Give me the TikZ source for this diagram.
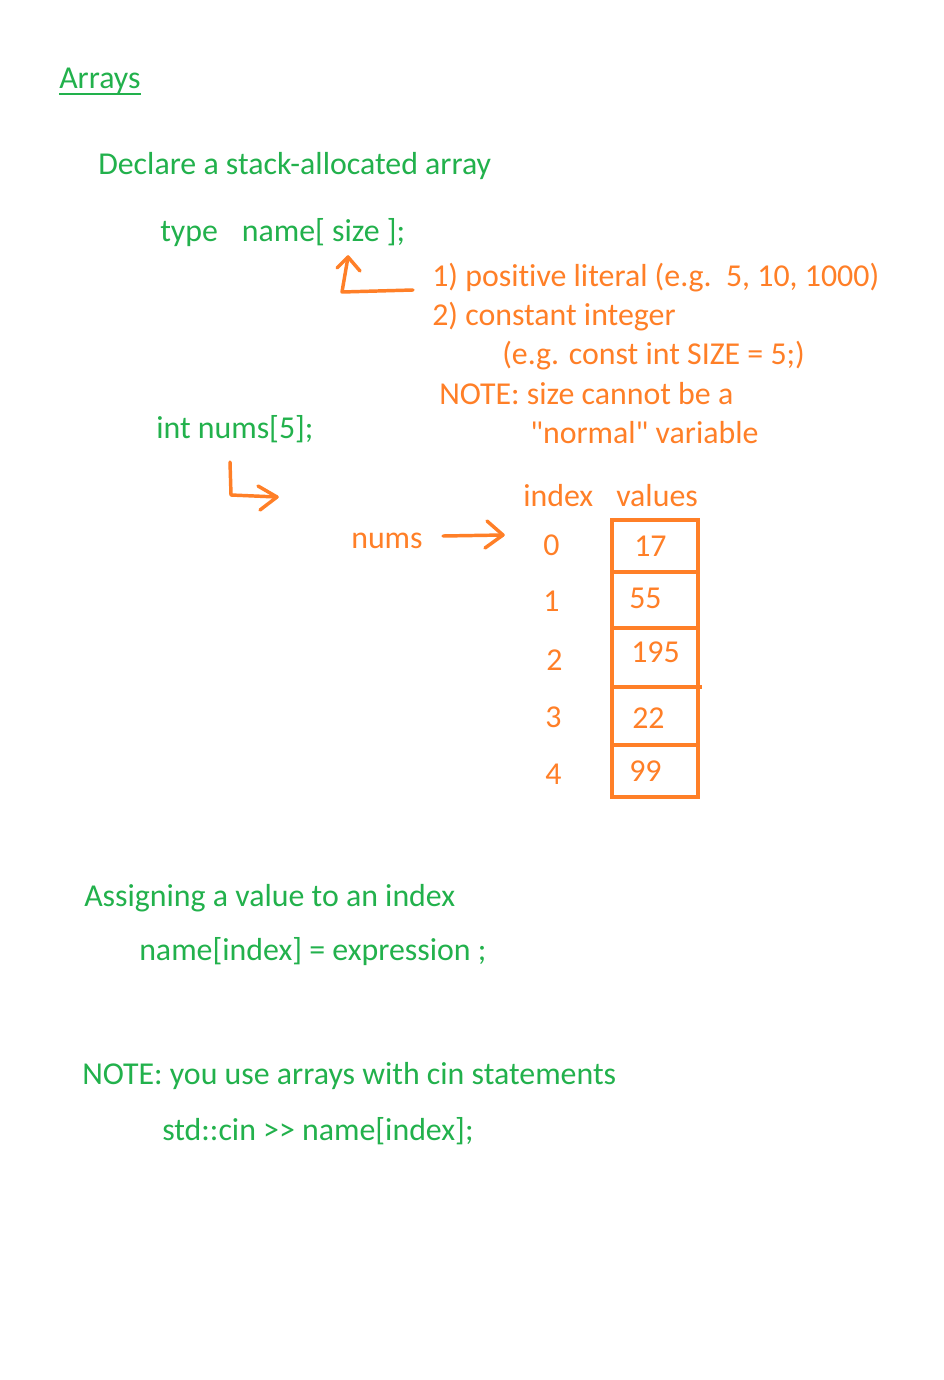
\documentclass[tikz,border=0pt]{standalone}
\usepackage{fontspec}
\newfontfamily\notefont{Carlito}[Ligatures={NoCommon,NoRequired}]
\definecolor{pgreen}{HTML}{22B14C}
\definecolor{porange}{HTML}{FF7F27}
\begin{document}
\begin{tikzpicture}[x=0.75pt,y=-0.75pt,
  txt/.style={anchor=base west,inner sep=0pt,font=\notefont\fontsize{23.9}{28}\selectfont},
  gtxt/.style={txt,text=pgreen},
  otxt/.style={txt,text=porange},
  pen/.style={draw=porange,line width=2.6pt,line cap=round,line join=round},
  cellbox/.style={draw=porange,line width=3.2pt}]
\useasboundingbox[fill=white] (0,0) rectangle (944,1380);
% green texts
\node[gtxt] (title) at (59,89) {Arrays};
\draw[pgreen,line width=1pt] (title.south west |- 0,94) -- (title.east |- 0,94);
\node[gtxt] (decl) at (98,175) {Declare a stack-allocated array};
\node[gtxt] (syntax) at (160,242) {type\hspace{0.75em}name[ size ];};
\node[gtxt] (ex) at (156,438) {int nums[5];};
\node[gtxt] (assign) at (84,906) {Assigning a value to an index};
\node[gtxt] (assyn) at (139,960) {name[index] = expression ;};
\node[gtxt] (note2) at (82,1084) {NOTE: you use arrays with cin statements};
\node[gtxt] (cin) at (162,1140) {std::cin >> name[index];};
% orange texts
\node[otxt] (r1) at (432,286) {1) positive literal (e.g.\ \ 5, 10, 1000)};
\node[otxt] (r2) at (432,325) {2) constant integer};
\node[otxt] (r2b) at (502,364) {(e.g. const int SIZE = 5;)};
\node[otxt] (n1) at (439,404) {NOTE: size cannot be a};
\node[otxt] (n2) at (530,443) {"normal" variable};
\node[otxt] (hidx) at (523,506) {index};
\node[otxt] (hval) at (616,506) {values};
\node[otxt] (nums) at (351,548) {nums};
\node[otxt] (i0) at (543,555) {0};
\node[otxt] (i1) at (543,611) {1};
\node[otxt] (i2) at (546,670) {2};
\node[otxt] (i3) at (545,727) {3};
\node[otxt] (i4) at (545,784) {4};
% array box
\draw[cellbox] (612,520) rectangle (698,797);
\draw[cellbox] (612,572) -- (698,572);
\draw[cellbox] (612,628) -- (698,628);
\draw[cellbox] (612,687) -- (702,687);
\draw[cellbox] (612,745) -- (698,745);
\node[otxt] (v0) at (634,556) {17};
\node[otxt] (v1) at (629,608) {55};
\node[otxt] (v2) at (631,662) {195};
\node[otxt] (v3) at (632,728) {22};
\node[otxt] (v4) at (629,781) {99};
% hand-drawn arrows
\coordinate (a1s) at (413,290);
\coordinate (a1c) at (342,292);
\coordinate (a1t) at (348,257);
\draw[pen] (a1s) -- (a1c) -- (a1t);
\draw[pen] (337,268) -- (a1t) -- (360,271);
\coordinate (a2s) at (230,462);
\coordinate (a2c) at (231,495);
\coordinate (a2t) at (277,497);
\draw[pen] (a2s) -- (a2c) -- (a2t);
\draw[pen] (258,486) -- (a2t) -- (260,510);
\coordinate (a3s) at (443,536);
\coordinate (a3t) at (503,535);
\draw[pen] (a3s) -- (a3t);
\draw[pen] (487,521) -- (a3t) -- (485,548);
\end{tikzpicture}
\end{document}
